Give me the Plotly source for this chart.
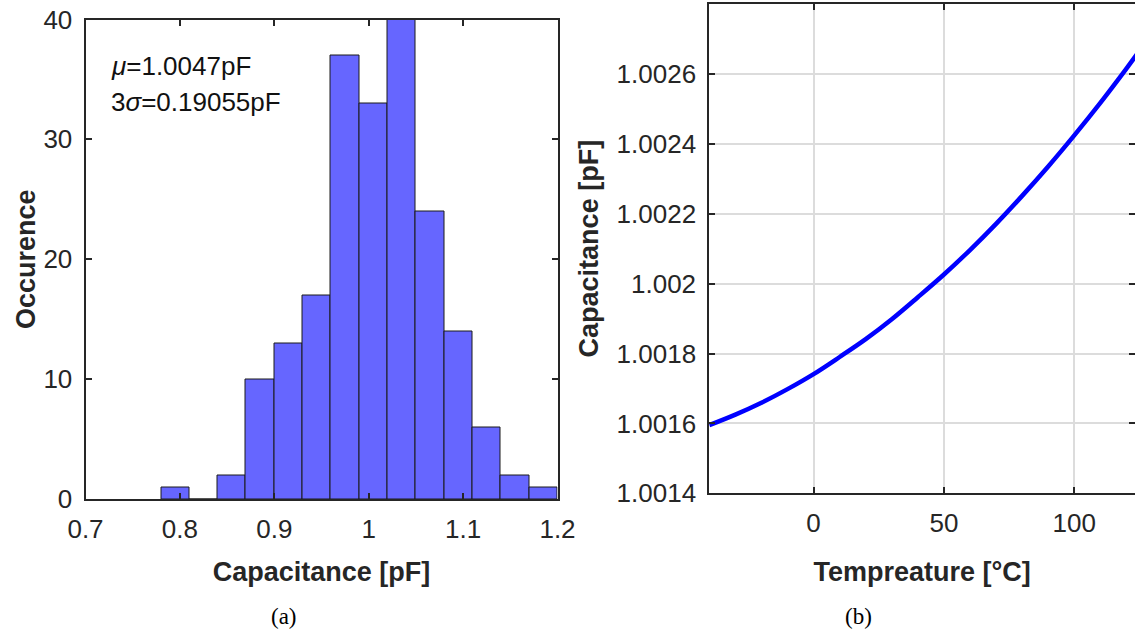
import plotly.graph_objects as go

# ---------------- data ----------------
# (a) histogram of capacitance
bin_edges = [0.78, 0.81, 0.84, 0.87, 0.90, 0.93, 0.96, 0.99, 1.02, 1.05, 1.08, 1.11, 1.14, 1.17, 1.20]
counts = [1, 0, 2, 10, 13, 17, 37, 33, 40, 24, 14, 6, 2, 1]
hist_xticks = [0.7, 0.8, 0.9, 1.0, 1.1, 1.2]
hist_xticklabels = ["0.7", "0.8", "0.9", "1", "1.1", "1.2"]
hist_yticks = [0, 10, 20, 30, 40]
hist_yticklabels = ["0", "10", "20", "30", "40"]

# (b) capacitance vs temperature
temperature = [-40, -30, -20, -10, 0, 10, 20, 30, 40, 50, 60, 70, 80, 90, 100, 110, 120, 125]
capacitance = [1.001595, 1.001625, 1.001659, 1.001698, 1.001741, 1.001790, 1.001841, 1.001898,
               1.001961, 1.002026, 1.002096, 1.002171, 1.002251, 1.002335, 1.002424, 1.002517,
               1.002615, 1.002666]
temp_xticks = [0, 50, 100]
temp_xticklabels = ["0", "50", "100"]
cap_yticks = [1.0014, 1.0016, 1.0018, 1.002, 1.0022, 1.0024, 1.0026]
cap_yticklabels = ["1.0014", "1.0016", "1.0018", "1.002", "1.0022", "1.0024", "1.0026"]

# ---------------- figure ----------------
W, H = 1135, 639
FONT = "Arial, 'Liberation Sans', Helvetica, sans-serif"
TXT = "#262626"
AX = "#262626"

centers = [(bin_edges[i] + bin_edges[i + 1]) / 2 for i in range(len(counts))]
widths = [bin_edges[i + 1] - bin_edges[i] for i in range(len(counts))]

fig = go.Figure()
fig.add_trace(go.Bar(
    x=centers, y=counts, width=widths,
    marker=dict(color="rgb(102,102,255)", line=dict(color="#1a1a1a", width=1)),
    xaxis="x", yaxis="y", showlegend=False,
))
fig.add_trace(go.Scatter(
    x=temperature, y=capacitance, mode="lines", line=dict(color="#0000FF", width=4.5, shape="spline"),
    xaxis="x2", yaxis="y2", showlegend=False,
))


def px_x(p):
    return p / W


def px_y(p):
    return (H - p) / H


tickfont = dict(family=FONT, size=26, color=TXT)
titlefont = dict(family=FONT, size=27, color=TXT, weight="bold")

axis_common = dict(
    showline=True, linecolor=AX, linewidth=2, ticks="inside", ticklen=6, tickwidth=1.5,
    tickcolor=AX, tickfont=tickfont, zeroline=False, automargin=False,
)

fig.update_layout(
    width=W, height=H,
    margin=dict(l=0, r=0, t=0, b=0, autoexpand=False),
    paper_bgcolor="white", plot_bgcolor="white",
    bargap=0,
    xaxis=dict(
        **axis_common, domain=[px_x(85.5), px_x(557.5)], range=[0.7, 1.2],
        tickvals=hist_xticks, ticktext=hist_xticklabels, mirror="ticks", showgrid=False,
        anchor="y", ticklabelstandoff=6,
        title=dict(text="Capacitance [pF]", font=titlefont, standoff=19),
    ),
    yaxis=dict(
        **axis_common, domain=[px_y(499), px_y(19.5)], range=[0, 40],
        tickvals=hist_yticks, ticktext=hist_yticklabels, mirror="ticks", showgrid=False,
        anchor="x", ticklabelstandoff=6,
        title=dict(text="Occurence", font=titlefont, standoff=0),
    ),
    xaxis2=dict(
        **axis_common, domain=[px_x(709.3), 1.0], range=[-40, 123.3],
        tickvals=temp_xticks, ticktext=temp_xticklabels, mirror="ticks",
        showgrid=True, gridcolor="#dcdcdc", gridwidth=1.5, anchor="y2", ticklabelstandoff=5,
        title=dict(text="Tempreature [°C]", font=titlefont, standoff=26),
    ),
    yaxis2=dict(
        **axis_common, domain=[px_y(493.3), px_y(4)], range=[1.0014, 1.0028],
        tickvals=cap_yticks, ticktext=cap_yticklabels, mirror=False,
        showgrid=True, gridcolor="#dcdcdc", gridwidth=1.5, anchor="x2", ticklabelstandoff=6,
        title=dict(text="Capacitance [pF]", font=titlefont, standoff=10),
    ),
    yaxis3=dict(
        overlaying="y2", side="right", anchor="x2", range=[1.0014, 1.0028],
        tickvals=cap_yticks, showticklabels=False, ticks="inside", ticklen=6, tickwidth=1.5,
        tickcolor=AX, showline=False, showgrid=False, zeroline=False, automargin=False,
    ),
)

# dummy trace to activate the right-side tick axis
fig.add_trace(go.Scatter(x=[None], y=[None], xaxis="x2", yaxis="y3", showlegend=False, hoverinfo="skip"))

annot_font = dict(family=FONT, size=26, color="#111111")
fig.add_annotation(xref="paper", yref="paper", x=px_x(109), y=px_y(66), xanchor="left", yanchor="middle",
                   text="<i>μ</i>=1.0047pF", showarrow=False, font=annot_font)
fig.add_annotation(xref="paper", yref="paper", x=px_x(109), y=px_y(102), xanchor="left", yanchor="middle",
                   text="3<i>σ</i>=0.19055pF", showarrow=False, font=annot_font)

cap_font = dict(family="'Times New Roman', 'Liberation Serif', serif", size=23, color="black")
fig.add_annotation(xref="paper", yref="paper", x=px_x(284), y=px_y(616), xanchor="center", yanchor="middle",
                   text="(a)", showarrow=False, font=cap_font)
fig.add_annotation(xref="paper", yref="paper", x=px_x(858), y=px_y(616), xanchor="center", yanchor="middle",
                   text="(b)", showarrow=False, font=cap_font)

fig.write_html(
    "out.html",
    config={"displayModeBar": False},
    post_script="document.body.style.margin='0';document.body.style.overflow='hidden';",
)
